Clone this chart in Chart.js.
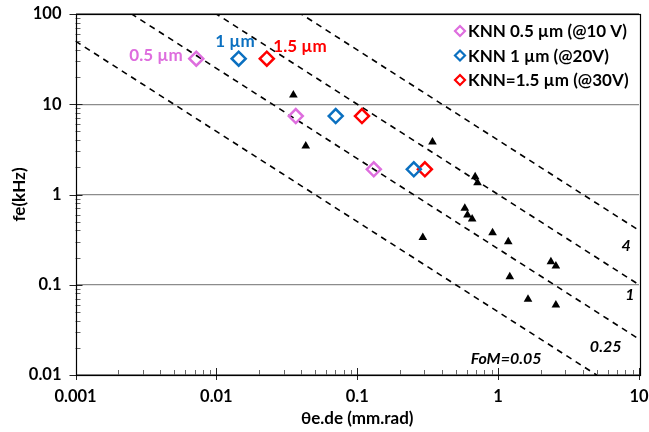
<!DOCTYPE html>
<html>
<head>
<meta charset="utf-8">
<script src="https://cdn.jsdelivr.net/npm/chart.js@4.4.0/dist/chart.umd.min.js"></script>
<style>
  html, body { margin: 0; padding: 0; background: #fff; }
  #wrap { width: 649px; height: 432px; }
</style>
</head>
<body>
<div id="wrap"><canvas id="chartFoM"></canvas></div>
<script>
// KNN samples (hollow diamonds)
const seriesLabels = ['KNN 0.5 µm (@10 V)', 'KNN 1 µm (@20V)', 'KNN=1.5 µm (@30V)'];
const seriesColors = ['#de6ede', '#0b70c0', '#ff0000'];
const knn05X = [0.0072, 0.0366, 0.131];
const knn05Y = [32, 7.4, 1.9];
const knn1X = [0.0144, 0.0703, 0.252];
const knn1Y = [32, 7.4, 1.9];
const knn15X = [0.0228, 0.108, 0.302];
const knn15Y = [32, 7.4, 1.9];

// literature points (black triangles)
const litX = [0.0352, 0.0431, 0.342, 0.687, 0.714, 0.580, 0.606, 0.654, 0.292, 0.913, 1.18, 2.37, 2.57, 1.21, 1.63, 2.57];
const litY = [12.7, 3.45, 3.82, 1.57, 1.35, 0.703, 0.593, 0.535, 0.333, 0.378, 0.30, 0.18, 0.161, 0.123, 0.069, 0.0597];

// figure of merit iso-lines
const fomValues = [0.05, 0.25, 1, 4];
const fomLabels = ['FoM=0.05', '0.25', '1', '4'];
const sizeLabels = ['0.5 µm', '1 µm', '1.5 µm'];

const xTicks = [0.001, 0.01, 0.1, 1, 10];
const yTicks = [0.01, 0.1, 1, 10, 100];

const FONT = 'Lato, "Open Sans", sans-serif';

const zip = (xs, ys) => xs.map((x, i) => ({ x: x, y: ys[i] }));

const knnSets = [[knn05X, knn05Y], [knn1X, knn1Y], [knn15X, knn15Y]].map((s, i) => ({
    label: seriesLabels[i],
    data: zip(s[0], s[1]),
    pointStyle: 'rectRot',
    pointRadius: 7,
    pointBorderWidth: 2.5,
    borderColor: seriesColors[i],
    backgroundColor: 'rgba(255,255,255,0)',
    showLine: false
}));

const litSet = {
    label: 'lit',
    data: zip(litX, litY),
    pointStyle: 'triangle',
    pointRadius: 5,
    borderWidth: 0,
    borderColor: '#000',
    backgroundColor: '#000',
    showLine: false
};

const fomSets = fomValues.map(f => ({
    label: 'FoM ' + f,
    data: [{ x: xTicks[0], y: f / xTicks[0] }, { x: xTicks[xTicks.length - 1], y: f / xTicks[xTicks.length - 1] }],
    showLine: true,
    borderColor: '#000',
    borderWidth: 1.6,
    borderDash: [6, 5],
    pointRadius: 0
}));

// text placed in data coordinates
const lineLabelPos = [[1.14, 0.0150], [5.8, 0.0205], [8.6, 0.077], [8.1, 0.268]];
const sizeLabelPos = [[0.00373, 35], [0.01356, 49], [0.0392, 44]];

const decorations = {
    id: 'decorations',
    afterDatasetsDraw(chart) {
        const ctx = chart.ctx;
        const xs = chart.scales.x, ys = chart.scales.y;
        const a = chart.chartArea;
        ctx.save();

        // minor / major ticks
        ctx.lineWidth = 1;
        ctx.strokeStyle = '#666';
        for (let d = 0.001; d < 9; d *= 10) {
            for (let k = 2; k <= 9; k++) {
                const px = Math.round(xs.getPixelForValue(k * d)) + 0.5;
                ctx.beginPath(); ctx.moveTo(px, a.bottom); ctx.lineTo(px, a.bottom - 5); ctx.stroke();
            }
        }
        for (let d = 0.01; d < 90; d *= 10) {
            for (let k = 2; k <= 9; k++) {
                const py = Math.round(ys.getPixelForValue(k * d)) + 0.5;
                ctx.beginPath(); ctx.moveTo(a.left, py); ctx.lineTo(a.left + 5, py); ctx.stroke();
            }
        }
        ctx.strokeStyle = '#222';
        xTicks.forEach(v => {
            const px = Math.round(xs.getPixelForValue(v)) + 0.5;
            ctx.beginPath(); ctx.moveTo(px, a.bottom + 5); ctx.lineTo(px, a.bottom - 7); ctx.stroke();
        });
        yTicks.forEach(v => {
            const py = Math.round(ys.getPixelForValue(v)) + 0.5;
            ctx.beginPath(); ctx.moveTo(a.left - 6, py); ctx.lineTo(a.left + 7, py); ctx.stroke();
        });

        // frame
        ctx.strokeStyle = '#000';
        ctx.lineWidth = 1.2;
        ctx.strokeRect(Math.round(a.left) + 0.5, Math.round(a.top) + 0.5,
            Math.round(a.right - a.left), Math.round(a.bottom - a.top));

        // FoM labels
        ctx.fillStyle = '#000';
        ctx.font = 'italic bold 16px ' + FONT;
        ctx.textAlign = 'center';
        ctx.textBaseline = 'middle';
        fomLabels.forEach((t, i) => {
            ctx.fillText(t, xs.getPixelForValue(lineLabelPos[i][0]), ys.getPixelForValue(lineLabelPos[i][1]));
        });

        // thickness labels
        ctx.font = 'bold 17px ' + FONT;
        sizeLabels.forEach((t, i) => {
            ctx.fillStyle = seriesColors[i];
            ctx.fillText(t, xs.getPixelForValue(sizeLabelPos[i][0]), ys.getPixelForValue(sizeLabelPos[i][1]));
        });

        // legend
        ctx.textAlign = 'left';
        seriesLabels.forEach((t, i) => {
            const y = 31 + i * 24.5;
            const x = 460;
            ctx.strokeStyle = seriesColors[i];
            ctx.lineWidth = 2.2;
            ctx.beginPath();
            ctx.moveTo(x, y - 5); ctx.lineTo(x + 5, y); ctx.lineTo(x, y + 5); ctx.lineTo(x - 5, y);
            ctx.closePath(); ctx.stroke();
            ctx.fillStyle = '#000';
            ctx.fillText(t, x + 8, y + 1);
        });
        ctx.restore();
    }
};

const config = {
    type: 'scatter',
    data: { datasets: [...knnSets, litSet, ...fomSets] },
    options: {
        responsive: true,
        maintainAspectRatio: false,
        animation: false,
        layout: { padding: { top: 14, right: 10, left: 0, bottom: 0 } },
        plugins: { legend: { display: false }, tooltip: { enabled: false } },
        scales: {
            x: {
                type: 'logarithmic',
                min: 0.001,
                max: 10,
                afterBuildTicks: s => { s.ticks = xTicks.map(v => ({ value: v })); },
                afterFit: s => { s.height = 57; s.paddingLeft = 0; s.paddingRight = 0; },
                grid: { display: false, drawTicks: false },
                border: { display: false },
                ticks: {
                    padding: 12,
                    color: '#000',
                    font: { family: FONT, size: 16.5, weight: 'bold' },
                    callback: v => String(v),
                    maxRotation: 0
                },
                title: {
                    display: true,
                    text: 'θe.de (mm.rad)',
                    color: '#000',
                    font: { family: FONT, size: 17, weight: 'bold' },
                    padding: { top: 0, bottom: 3 }
                }
            },
            y: {
                type: 'logarithmic',
                min: 0.01,
                max: 100,
                afterBuildTicks: s => { s.ticks = yTicks.map(v => ({ value: v })); },
                afterFit: s => { s.width = 75.5; s.paddingTop = 0; s.paddingBottom = 0; },
                grid: { color: '#8c8c8c', lineWidth: 1.3, drawTicks: false },
                border: { display: false },
                ticks: {
                    padding: 14,
                    color: '#000',
                    font: { family: FONT, size: 16.5, weight: 'bold' },
                    callback: v => String(v)
                },
                title: {
                    display: true,
                    text: 'fe(kHz)',
                    color: '#000',
                    font: { family: FONT, size: 17, weight: 'bold' },
                    padding: 9
                }
            }
        }
    },
    plugins: [decorations]
};

var chartFoM = new Chart(document.getElementById('chartFoM'), config);
</script>
</body>
</html>
